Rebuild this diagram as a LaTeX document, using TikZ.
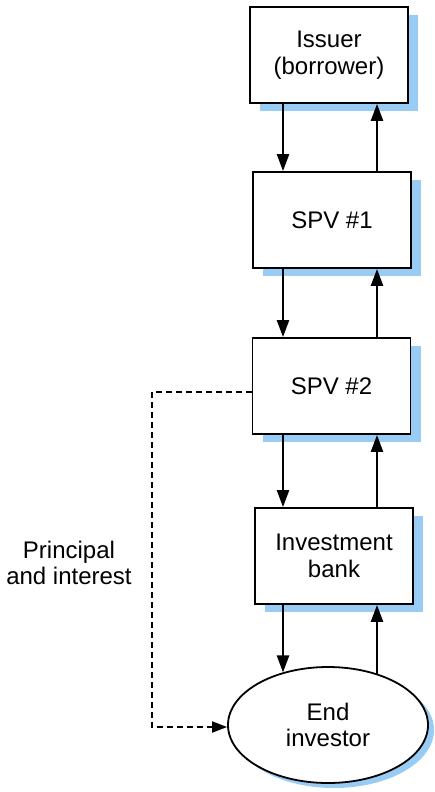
\documentclass[tikz,border=0pt]{standalone}
\usepackage{fontspec}
\setmainfont{Liberation Sans}
\usetikzlibrary{shapes.geometric,arrows.meta,shadows}
\definecolor{shadowblue}{HTML}{99CCF5}
\begin{document}
\begin{tikzpicture}[x=1pt,y=-1pt,
  lbl/.style={font=\fontsize{24}{26.5}\selectfont, align=center},
  box/.style={lbl, draw=black, line width=1.8pt, fill=white, minimum width=158pt, minimum height=96pt, inner sep=0pt,
     drop shadow={shadow xshift=10pt, shadow yshift=-8pt, fill=shadowblue, opacity=1}},
  ell/.style={lbl, ellipse, draw=black, line width=1.8pt, fill=white, minimum width=200pt, minimum height=116pt, inner sep=0pt,
     drop shadow={shadow xshift=6pt, shadow yshift=-5pt, fill=shadowblue, opacity=1}},
  arr/.style={line width=2.4pt, -{Triangle[length=17pt,width=12pt]}},
  darr/.style={line width=2pt, dash pattern=on 6pt off 4pt, -{Triangle[length=15pt,width=11pt]}}
]
\useasboundingbox[fill=white] (0,0) rectangle (435,792);
\node[box] (iss) at (329,55) {Issuer\\(borrower)};
\node[box] (spv1) at (332,220) {SPV \#1};
\node[box] (spv2) at (331.5,386) {SPV \#2};
\node[box] (ib) at (334,556) {Investment\\bank};
\node[ell] (end) at (328,725) {End\\investor};
\node[lbl] (pi) at (69,563) {Principal\\and interest};
\coordinate (L) at (283,0);
\coordinate (R) at (377,0);
\coordinate (D) at (152,0);
% down arrows
\draw[arr] (iss.south -| L) -- (spv1.north -| L);
\draw[arr] (spv1.south -| L) -- (spv2.north -| L);
\draw[arr] (spv2.south -| L) -- (ib.north -| L);
\draw[arr] (ib.south -| L) -- (end.131 -| L);
% up arrows
\draw[arr] (spv1.north -| R) -- (iss.south -| R);
\draw[arr] (spv2.north -| R) -- (spv1.south -| R);
\draw[arr] (ib.north -| R) -- (spv2.south -| R);
\draw[arr] (end.46 -| R) -- (ib.south -| R);
% dashed
\coordinate (ds) at ([yshift=-6pt]spv2.west);
\draw[darr] (ds) -- (ds -| D) -- ([yshift=-2pt]end.west -| D) -- ([yshift=-2pt]end.west);
\end{tikzpicture}
\end{document}
